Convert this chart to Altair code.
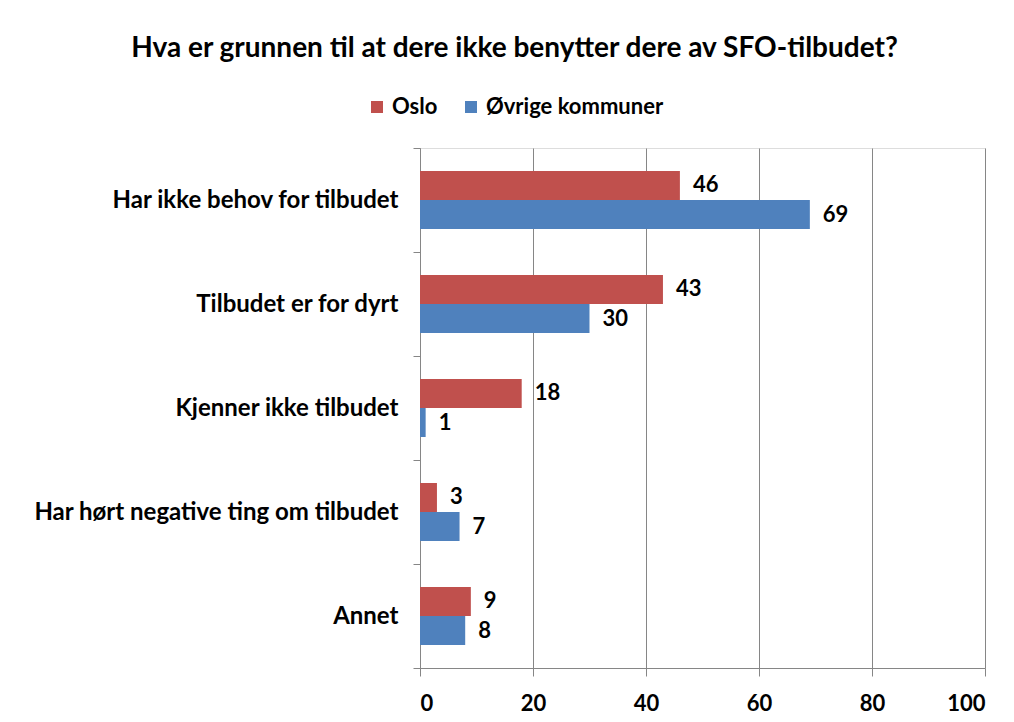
import altair as alt
import pandas as pd

categories = [
    "Har ikke behov for tilbudet",
    "Tilbudet er for dyrt",
    "Kjenner ikke tilbudet",
    "Har hørt negative ting om tilbudet",
    "Annet",
]
series = ["Oslo", "Øvrige kommuner"]
oslo = [46, 43, 18, 3, 9]
ovrige = [69, 30, 1, 7, 8]
colors = ["#C0504D", "#4F81BD"]
x_ticks = [0, 20, 40, 60, 80, 100]

rows = []
for c, a, b in zip(categories, oslo, ovrige):
    rows.append({"kategori": c, "serie": series[0], "verdi": a})
    rows.append({"kategori": c, "serie": series[1], "verdi": b})
df = pd.DataFrame(rows)

FONT = "Lato"

y_enc = alt.Y(
    "kategori:N",
    sort=categories,
    title=None,
    scale=alt.Scale(paddingInner=0, paddingOuter=0),
    axis=alt.Axis(
        tickBand="extent",
        tickSize=7,
        tickColor="#868686",
        domainColor="#868686",
        labelPadding=15,
        labelFontSize=24,
        labelFontWeight="bold",
        labelColor="#000000",
        labelFont=FONT,
        labelLimit=420,
        grid=False,
    ),
)
yoff = alt.YOffset(
    "serie:N", sort=series, scale=alt.Scale(paddingInner=0, paddingOuter=0.79)
)
x_enc = alt.X(
    "verdi:Q",
    title=None,
    scale=alt.Scale(domain=[0, 100], nice=False),
    axis=alt.Axis(
        values=x_ticks,
        tickSize=8,
        tickColor="#868686",
        domainColor="#868686",
        gridColor="#868686",
        grid=True,
        labelPadding=17,
        labelFontSize=22,
        labelFontWeight="bold",
        labelColor="#000000",
        labelFont=FONT,
    ),
)

bars = alt.Chart(df).mark_bar(size=29).encode(
    y=y_enc,
    yOffset=yoff,
    x=x_enc,
    color=alt.Color(
        "serie:N",
        sort=series,
        scale=alt.Scale(domain=series, range=colors),
        legend=alt.Legend(
            title=None,
            orient="none",
            direction="horizontal",
            legendX=-54,
            legendY=-52,
            symbolType="square",
            symbolSize=144,
            symbolStrokeWidth=0,
            labelFontSize=22,
            labelFontWeight="bold",
            labelFont=FONT,
            labelColor="#000000",
            labelLimit=400,
            columnPadding=22,
            symbolOffset=0,
            labelOffset=4,
        ),
    ),
)

labels = alt.Chart(df).mark_text(
    align="left", baseline="middle", dx=13, fontSize=22, fontWeight="bold",
    font=FONT, color="#000000"
).encode(
    y=alt.Y("kategori:N", sort=categories),
    yOffset=alt.YOffset("serie:N", sort=series),
    x=alt.X("verdi:Q"),
    text=alt.Text("verdi:Q"),
)

chart = (
    alt.layer(bars, labels)
    .properties(
        width=565,
        height=520,
        autosize=alt.AutoSizeParams(type="none"),
        padding={"left": 412, "top": 140, "right": 20, "bottom": 46},
        title=alt.TitleParams(
            "Hva er grunnen til at dere ikke benytter dere av SFO-tilbudet?",
            font=FONT,
            fontSize=28,
            fontWeight="bold",
            color="#000000",
            anchor="middle",
            dx=-188,
            offset=33,
        ),
    )
    .configure_view(stroke=None)
    .configure(background="#FFFFFF")
)

chart.save("out.html", embed_options={"renderer": "svg", "actions": False})
